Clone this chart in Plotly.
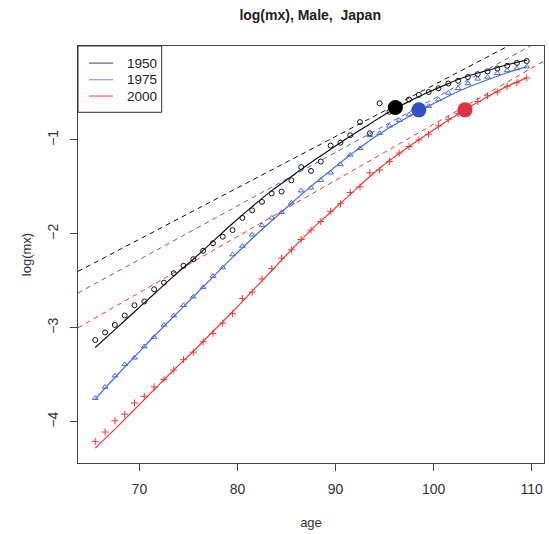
import plotly.graph_objects as go

# ---------------- data ----------------
ages = [65.5 + i for i in range(45)]

obs_1950 = [-3.13, -3.05, -2.97, -2.87, -2.76, -2.72, -2.59, -2.52, -2.42, -2.34,
            -2.27, -2.18, -2.10, -2.03, -1.96, -1.83, -1.75, -1.66, -1.57, -1.55,
            -1.43, -1.29, -1.33, -1.23, -1.06, -1.03, -0.95, -0.81, -0.93, -0.61,
            -0.70, -0.63, -0.57, -0.52, -0.49, -0.45, -0.40, -0.37, -0.33, -0.30,
            -0.27, -0.24, -0.21, -0.18, -0.16]
obs_1975 = [-3.75, -3.63, -3.51, -3.39, -3.32, -3.20, -3.10, -2.97, -2.87, -2.76,
            -2.67, -2.57, -2.45, -2.36, -2.22, -2.13, -2.01, -1.91, -1.83, -1.77,
            -1.67, -1.54, -1.51, -1.43, -1.35, -1.26, -1.16, -1.09, -0.95, -0.93,
            -0.85, -0.79, -0.73, -0.68, -0.64, -0.57, -0.50, -0.45, -0.40, -0.35,
            -0.33, -0.29, -0.26, -0.24, -0.22]
obs_2000 = [-4.21, -4.11, -3.99, -3.92, -3.80, -3.73, -3.63, -3.55, -3.45, -3.34,
            -3.26, -3.15, -3.06, -2.95, -2.85, -2.69, -2.62, -2.48, -2.37, -2.26,
            -2.17, -2.06, -1.96, -1.87, -1.76, -1.68, -1.56, -1.50, -1.35, -1.32,
            -1.23, -1.14, -1.07, -1.00, -0.94, -0.85, -0.78, -0.72, -0.65, -0.59,
            -0.53, -0.49, -0.43, -0.39, -0.34]

fit_ages = [65.5 + 2 * i for i in range(23)]
fit_1950 = [-3.21, -3.02, -2.83, -2.64, -2.45, -2.27, -2.08, -1.89, -1.71, -1.54,
            -1.39, -1.24, -1.10, -0.96, -0.83, -0.70, -0.59, -0.49, -0.40, -0.32,
            -0.26, -0.20, -0.15]
fit_1975 = [-3.76, -3.53, -3.31, -3.09, -2.88, -2.67, -2.46, -2.25, -2.05, -1.86,
            -1.675, -1.495, -1.325, -1.16, -1.005, -0.87, -0.75, -0.64, -0.535, -0.44,
            -0.36, -0.285, -0.22]
fit_2000 = [-4.28, -4.08, -3.87, -3.66, -3.45, -3.25, -3.04, -2.83, -2.61, -2.39,
            -2.17, -1.96, -1.77, -1.58, -1.39, -1.22, -1.07, -0.93, -0.79, -0.66,
            -0.54, -0.43, -0.34]

# straight (dashed) reference lines: value at the two ends of the age range
line_ages = [63.74, 111.26]
line_1950 = [-2.40, 0.20]
line_1975 = [-2.63, 0.08]
line_2000 = [-3.00, -0.16]

# marked points (large dots)
mark_age = [96.1, 98.5, 103.2]
mark_val = [-0.655, -0.68, -0.68]

years = ["1950", "1975", "2000"]
colors = ["#111111", "#4a6ad8", "#ee3a3a"]
legend_colors = ["#444444", "#7088e0", "#ee4444"]
dot_colors = ["#000000", "#3050c0", "#e03045"]
symbols = ["circle-open", "triangle-up-open", "cross-thin-open"]

obs = [obs_1950, obs_1975, obs_2000]
fits = [fit_1950, fit_1975, fit_2000]
lines = [line_1950, line_1975, line_2000]

fig = go.Figure()

for i in range(3):
    fig.add_trace(go.Scatter(
        x=line_ages, y=lines[i], mode="lines",
        line=dict(color=colors[i], width=1, dash="5px,4px"),
        showlegend=False, hoverinfo="skip"))

for i in range(3):
    fig.add_trace(go.Scatter(
        x=ages, y=obs[i], mode="markers",
        marker=dict(symbol=symbols[i], size=5,
                    color=colors[i], line=dict(color=colors[i], width=1)),
        showlegend=False))

for i in range(3):
    fig.add_trace(go.Scatter(
        x=fit_ages, y=fits[i], mode="lines", name=years[i],
        line=dict(color=colors[i], width=1.2, shape="spline", smoothing=1.0),
        showlegend=False))

fig.add_trace(go.Scatter(
    x=mark_age, y=mark_val, mode="markers",
    marker=dict(size=15, color=dot_colors), showlegend=False))

font_fam = "Liberation Sans, Arial, sans-serif"

# legend box (R-style) drawn in paper coordinates
shapes = [dict(type="rect", xref="paper", yref="paper", x0=0, x1=0.1796,
               y0=0.841, y1=1, line=dict(color="#333", width=1),
               fillcolor="white", layer="above")]
annotations = []
row_y = [0.959, 0.919, 0.880]
for i in range(3):
    shapes.append(dict(type="line", xref="paper", yref="paper",
                       x0=0.0236, x1=0.0751, y0=row_y[i], y1=row_y[i],
                       line=dict(color=legend_colors[i], width=1), layer="above"))
    annotations.append(dict(text=years[i], xref="paper", yref="paper",
                            x=0.1000, y=row_y[i], xanchor="left", yanchor="middle",
                            showarrow=False,
                            font=dict(family=font_fam, size=13.5, color="#222")))

axis_common = dict(showline=True, linecolor="#444", linewidth=1, mirror=True,
                   ticks="outside", ticklen=7, tickcolor="#444",
                   showgrid=False, zeroline=False,
                   tickfont=dict(family=font_fam, size=14, color="#333"))

fig.update_layout(
    width=549, height=534,
    margin=dict(l=78, r=5, t=46, b=71),
    paper_bgcolor="white", plot_bgcolor="white",
    font=dict(family=font_fam, size=13, color="#222"),
    showlegend=False,
    shapes=shapes,
    annotations=annotations,
    title=dict(text="<b>log(mx), Male,  Japan</b>", x=0.5650, xanchor="center",
               y=0.972, yanchor="middle",
               font=dict(family=font_fam, size=14, color="#222")),
    xaxis=dict(range=[63.74, 111.26], tickvals=[70, 80, 90, 100, 110],
               ticklabelstandoff=6,
               title=dict(text="age", standoff=22,
                          font=dict(family=font_fam, size=13, color="#333")),
               **axis_common),
    yaxis=dict(range=[-4.44, 0.0], tickvals=[-4, -3, -2, -1], tickangle=-90,
               ticklabelstandoff=6,
               title=dict(text="log(mx)", standoff=10,
                          font=dict(family=font_fam, size=13, color="#333")),
               **axis_common),
)

fig.write_html("out.html")
